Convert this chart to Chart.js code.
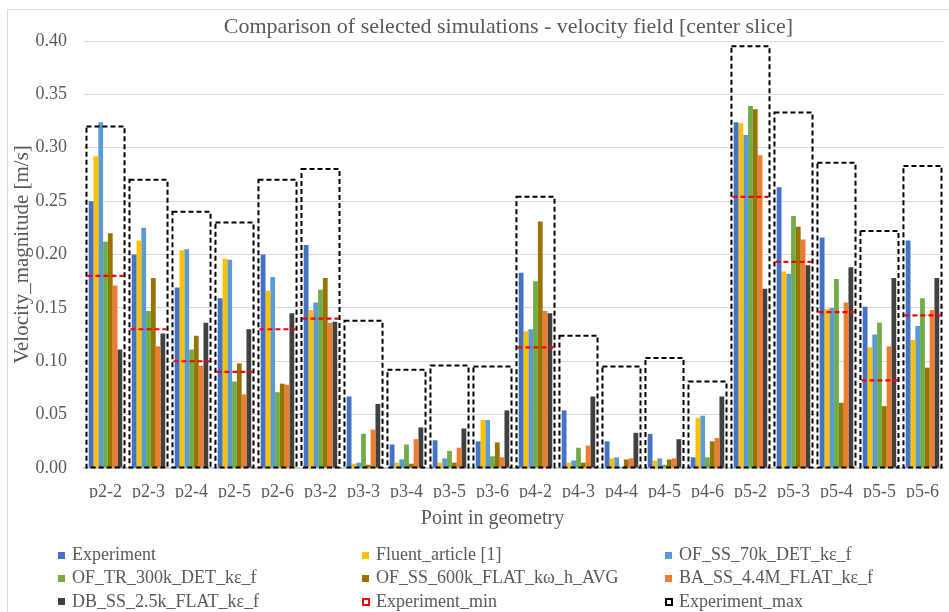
<!DOCTYPE html>
<html>
<head>
<meta charset="utf-8">
<script src="https://cdn.jsdelivr.net/npm/chart.js@4.4.1/dist/chart.umd.min.js"></script>
<style>
  body { margin: 0; overflow: hidden; background: #fff; font-family: "Liberation Serif", serif; }
  #frame { position: absolute; left: 7px; top: 9px; width: 1000px; height: 700px; border: 1px solid #d9d9d9; }
  #wrap { position: absolute; left: 0; top: 0; width: 952px; height: 612px; }
  #legend { position: absolute; left: 0; top: 0; width: 949px; height: 612px; pointer-events: none; }
  .item { position: absolute; font-size: 18px; line-height: 23px; color: #595959; white-space: nowrap; }
  .mark { position: absolute; width: 7px; height: 7px; }
  .dash { position: absolute; width: 4px; height: 4px; border: 2px dashed; }
  #title { position: absolute; left: 0; top: 13px; width: 1017px; text-align: center; font-size: 22px; line-height: 26px; color: #595959; white-space: nowrap; }
  #xtitle { position: absolute; left: 0; top: 505px; width: 985px; text-align: center; font-size: 20px; line-height: 24px; color: #595959; white-space: nowrap; }
</style>
</head>
<body>
<div id="frame"></div>
<div id="wrap"><canvas id="myChart"></canvas></div>
<div id="title">Comparison of selected simulations - velocity field [center slice]</div>
<div id="xtitle">Point in geometry</div>
<div id="legend"></div>
<script>
var categories = ['p2-2', 'p2-3', 'p2-4', 'p2-5', 'p2-6', 'p3-2', 'p3-3', 'p3-4', 'p3-5', 'p3-6',
                  'p4-2', 'p4-3', 'p4-4', 'p4-5', 'p4-6', 'p5-2', 'p5-3', 'p5-4', 'p5-5', 'p5-6'];
var yTicks = [0, 0.05, 0.10, 0.15, 0.20, 0.25, 0.30, 0.35, 0.40];

var experiment = [0.250, 0.200, 0.169, 0.159, 0.200, 0.209, 0.067, 0.022, 0.026, 0.025,
                  0.183, 0.054, 0.025, 0.032, 0.010, 0.324, 0.263, 0.216, 0.151, 0.213];
var fluentArticle = [0.292, 0.213, 0.204, 0.196, 0.166, 0.148, 0.004, 0.005, 0.005, 0.045,
                     0.128, 0.005, 0.009, 0.007, 0.047, 0.323, 0.184, 0.149, 0.113, 0.120];
var ofSs70k = [0.324, 0.225, 0.205, 0.195, 0.179, 0.155, 0.005, 0.008, 0.009, 0.045,
               0.130, 0.007, 0.010, 0.009, 0.049, 0.312, 0.182, 0.150, 0.125, 0.133];
var ofTr300k = [0.212, 0.147, 0.111, 0.081, 0.071, 0.167, 0.032, 0.022, 0.016, 0.011,
                0.175, 0.019, 0.001, 0.003, 0.010, 0.339, 0.236, 0.177, 0.136, 0.159];
var ofSs600k = [0.220, 0.178, 0.124, 0.098, 0.079, 0.178, 0.003, 0.004, 0.005, 0.024,
                0.231, 0.005, 0.008, 0.008, 0.025, 0.336, 0.226, 0.061, 0.058, 0.094];
var baSs44M = [0.171, 0.114, 0.096, 0.069, 0.078, 0.136, 0.036, 0.027, 0.019, 0.010,
               0.147, 0.021, 0.009, 0.009, 0.028, 0.293, 0.214, 0.155, 0.114, 0.148];
var dbSs25k = [0.111, 0.126, 0.136, 0.130, 0.145, 0.137, 0.060, 0.038, 0.037, 0.054,
               0.145, 0.067, 0.033, 0.027, 0.067, 0.168, 0.190, 0.188, 0.178, 0.178];
var experimentMin = [0.180, 0.130, 0.100, 0.090, 0.130, 0.140, null, null, null, null,
                     0.113, null, null, null, null, 0.254, 0.193, 0.146, 0.082, 0.143];
var experimentMax = [0.320, 0.270, 0.240, 0.230, 0.270, 0.280, 0.138, 0.092, 0.096, 0.095,
                     0.254, 0.124, 0.095, 0.103, 0.081, 0.395, 0.333, 0.286, 0.222, 0.283];

var textColor = '#595959';

function barSet(label, data, color) {
    return {
        label: label,
        data: data,
        backgroundColor: color,
        borderWidth: 0,
        categoryPercentage: 0.78,
        barPercentage: 1.0
    };
}

// dashed outlines for the min / max bars (Chart.js bars have no borderDash)
var dashPlugin = {
    id: 'dashBoxes',
    afterDatasetsDraw: function(chart) {
        var ctx = chart.ctx;
        chart.data.datasets.forEach(function(ds, i) {
            if (!ds.dashStyle) return;
            var meta = chart.getDatasetMeta(i);
            ctx.save();
            ctx.strokeStyle = ds.dashColor;
            ctx.lineWidth = ds.dashWidth;
            ctx.setLineDash([5, 3]);
            meta.data.forEach(function(bar, j) {
                if (ds.data[j] == null) return;
                var p = bar.getProps(['x', 'y', 'base', 'width'], true);
                var l = p.x - p.width / 2;
                ctx.beginPath();
                if (ds.dashStyle === 'box') {
                    ctx.rect(l, p.y, p.width, p.base - p.y);
                } else {
                    ctx.moveTo(l, p.y);
                    ctx.lineTo(l + p.width, p.y);
                }
                ctx.stroke();
            });
            ctx.restore();
        });
    }
};

var ctx = document.getElementById('myChart').getContext('2d');
var myChart = new Chart(ctx, {
    type: 'bar',
    data: {
        labels: categories,
        datasets: [
            barSet('Experiment', experiment, '#4472C4'),
            barSet('Fluent_article [1]', fluentArticle, '#FFC000'),
            barSet('OF_SS_70k_DET_kε_f', ofSs70k, '#5B9BD5'),
            barSet('OF_TR_300k_DET_kε_f', ofTr300k, '#70AD47'),
            barSet('OF_SS_600k_FLAT_kω_h_AVG', ofSs600k, '#997300'),
            barSet('BA_SS_4.4M_FLAT_kε_f', baSs44M, '#ED7D31'),
            barSet('DB_SS_2.5k_FLAT_kε_f', dbSs25k, '#404040'),
            {
                label: 'Experiment_min',
                data: experimentMin,
                grouped: false,
                backgroundColor: 'rgba(0,0,0,0)',
                borderWidth: 0,
                categoryPercentage: 0.84,
                barPercentage: 1.0,
                dashStyle: 'line',
                dashColor: '#FF0000',
                dashWidth: 2.2
            },
            {
                label: 'Experiment_max',
                data: experimentMax,
                grouped: false,
                backgroundColor: 'rgba(0,0,0,0)',
                borderWidth: 0,
                categoryPercentage: 0.885,
                barPercentage: 1.0,
                dashStyle: 'box',
                dashColor: '#000000',
                dashWidth: 2
            }
        ]
    },
    options: {
        responsive: true,
        maintainAspectRatio: false,
        animation: false,
        layout: { padding: { left: 0, right: 1, top: 41, bottom: 114 } },
        plugins: {
            legend: { display: false },
            tooltip: { enabled: false },
            title: { display: false }
        },
        scales: {
            x: {
                afterFit: function(scale) { scale.height = 30; },
                grid: { display: false, drawTicks: false },
                border: { display: true, color: '#d0d0d0', width: 2 },
                ticks: {
                    color: textColor,
                    padding: 13,
                    maxRotation: 0,
                    autoSkip: false,
                    font: { family: 'Liberation Serif', size: 18 }
                }
            },
            y: {
                min: 0,
                max: 0.40,
                afterFit: function(scale) { scale.width = 84; },
                afterBuildTicks: function(scale) {
                    scale.ticks = yTicks.map(function(v) { return { value: v }; });
                },
                grid: { color: '#d9d9d9', lineWidth: 1, drawTicks: false },
                border: { display: false },
                ticks: {
                    color: textColor,
                    padding: 17,
                    font: { family: 'Liberation Serif', size: 18 },
                    callback: function(v) { return Number(v).toFixed(2); }
                },
                title: {
                    display: true,
                    text: 'Velocity_magnitude [m/s]',
                    color: textColor,
                    padding: { top: 10, bottom: 0 },
                    font: { family: 'Liberation Serif', size: 21 }
                }
            }
        }
    },
    plugins: [dashPlugin]
});

// legend in three columns, as in the original
var legendItems = myChart.data.datasets.map(function(ds) {
    return { label: ds.label, color: ds.backgroundColor, dash: ds.dashStyle ? ds.dashColor : null };
});
var colLeft = [58, 362, 665];
var rowTop = [543, 566.3, 589.6];
var legendBox = document.getElementById('legend');
legendItems.forEach(function(it, k) {
    var col = k % 3, row = Math.floor(k / 3);
    var mark = it.dash
        ? '<span class="dash" style="left:' + colLeft[col] + 'px;top:' + (rowTop[row] + 8) + 'px;border-color:' + it.dash + '"></span>'
        : '<span class="mark" style="left:' + colLeft[col] + 'px;top:' + (rowTop[row] + 8.5) + 'px;background:' + it.color + '"></span>';
    legendBox.insertAdjacentHTML('beforeend', mark +
        '<div class="item" style="left:' + (colLeft[col] + 14) + 'px;top:' + rowTop[row] + 'px">' + it.label + '</div>');
});
</script>
</body>
</html>
